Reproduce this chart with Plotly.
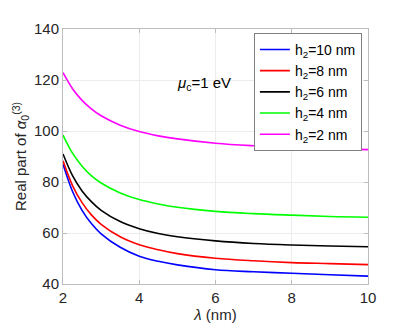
import plotly.graph_objects as go

# wavelength (nm)
lam = [2, 2.25, 2.5, 2.75, 3, 3.5, 4, 4.5, 5, 6, 7, 8, 9, 10]

# real part of alpha_0^(3) for each h2
h2_10 = [87, 76.3, 68.9, 63.6, 59.7, 54.4, 50.9, 48.9, 47.5, 45.6, 44.8, 44.2, 43.6, 43.1]
h2_8 = [88.3, 78.6, 71.9, 67, 63.4, 58.5, 55.4, 53.4, 51.9, 50.1, 49.1, 48.4, 48, 47.6]
h2_6 = [91, 82.5, 76.5, 72.2, 68.9, 64.5, 61.7, 59.8, 58.5, 56.9, 55.9, 55.3, 54.9, 54.6]
h2_4 = [98.4, 91.3, 86.2, 82.4, 79.6, 75.7, 73.1, 71.4, 70.1, 68.5, 67.6, 67, 66.5, 66.2]
h2_2 = [122.9, 116.6, 112, 108.6, 106, 102.3, 99.8, 98.1, 96.9, 95.2, 94.2, 93.5, 93.1, 92.7]

series = [
    ("h<sub>2</sub>=10 nm", h2_10, "#0000ff"),
    ("h<sub>2</sub>=8 nm", h2_8, "#ff0000"),
    ("h<sub>2</sub>=6 nm", h2_6, "#000000"),
    ("h<sub>2</sub>=4 nm", h2_4, "#00ff00"),
    ("h<sub>2</sub>=2 nm", h2_2, "#ff00ff"),
]

fig = go.Figure()
for name, vals, col in series:
    fig.add_trace(go.Scatter(x=lam, y=vals, mode="lines", name=name,
                             line=dict(color=col, width=1.6, shape="spline",
                                       smoothing=1.0)))

fig.add_annotation(x=5.7, y=118.5, text="<i>μ</i><sub>c</sub>=1 eV",
                   showarrow=False, font=dict(size=15, color="#000"))

axis_common = dict(showline=True, linecolor="#bdbdbd", linewidth=1,
                   mirror="ticks", ticks="inside", ticklen=4,
                   tickcolor="#bdbdbd", showgrid=True, gridcolor="#ececec",
                   zeroline=False, tickfont=dict(size=15, color="#262626"))

# page body adds an 8px offset, margins compensate for it
fig.update_layout(
    width=407, height=328,
    margin=dict(l=55, r=47, t=17, b=52),
    paper_bgcolor="white", plot_bgcolor="white",
    font=dict(family="Liberation Sans, Arial, sans-serif", color="#262626"),
    xaxis=dict(range=[2, 10], tickvals=[2, 4, 6, 8, 10],
               title=dict(text="<i>λ</i> (nm)", font=dict(size=15),
                          standoff=2),
               **axis_common),
    yaxis=dict(range=[40, 140], tickvals=[40, 60, 80, 100, 120, 140],
               title=dict(text="Real part of <i>α</i><sub>0</sub><sup>(3)</sup>",
                          font=dict(size=15), standoff=3),
               **axis_common),
    legend=dict(x=0.98, y=0.985, xanchor="right", yanchor="top",
                bgcolor="white", bordercolor="#7f7f7f", borderwidth=1,
                font=dict(size=14, color="#000"), itemwidth=30,
                tracegroupgap=0),
    showlegend=True,
)

fig.write_html("out.html")
